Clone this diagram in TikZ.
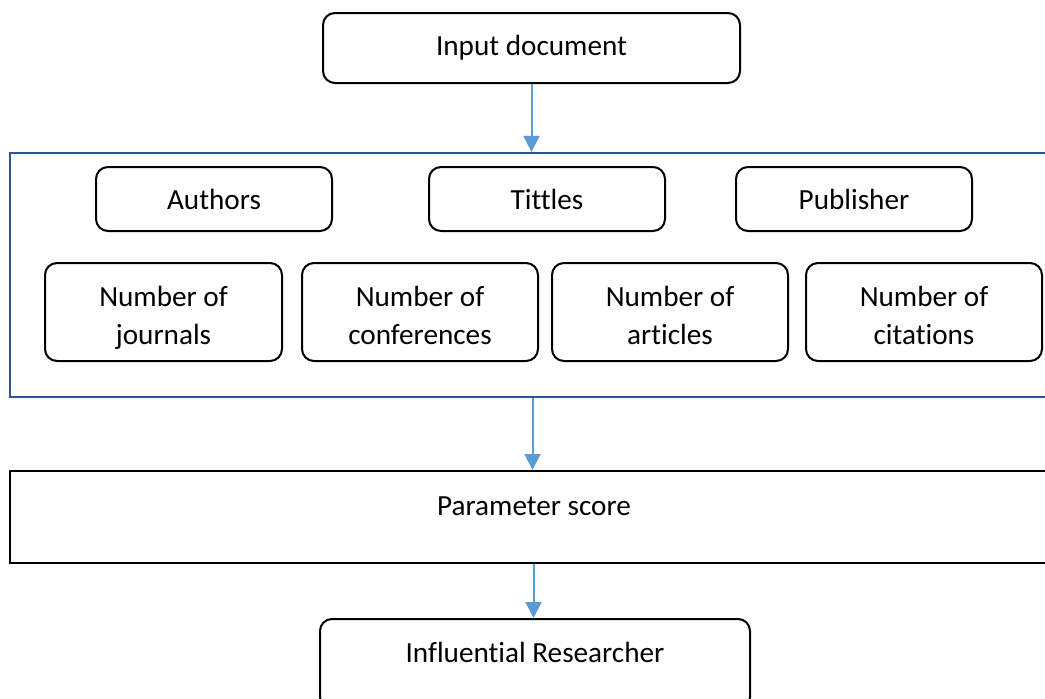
\documentclass[tikz,border=0pt]{standalone}
\usepackage{fontspec}
\setmainfont{Carlito}[Ligatures=NoCommon]
\usetikzlibrary{arrows.meta}
\definecolor{framecol}{RGB}{47,85,140}
\definecolor{arrcol}{RGB}{91,155,213}
\tikzset{
  rbox/.style={draw=black, line width=1pt, rounded corners=6pt, fill=white, inner sep=0pt, align=center},
  sbox/.style={draw=black, line width=1pt, inner sep=0pt},
  lbl/.style={inner sep=0pt, align=center},
  arr/.style={draw=arrcol, line width=1pt, -{Triangle[length=8pt,width=8pt]}},
}
\begin{document}
\begin{tikzpicture}[x=0.5pt,y=-0.5pt, font=\fontsize{14.6}{19}\selectfont]
\useasboundingbox (0,0) rectangle (1045,698);
\clip (0,0) rectangle (1045,698);
\fill[white] (0,0) rectangle (1045,698);
% top box
\node[rbox, minimum width=208.5pt, minimum height=35pt] (idoc) at (531.5,48) {Input document};
% frame
\node[draw=framecol, line width=1.1pt, minimum width=530pt, minimum height=122pt, inner sep=0pt] (frame) at (540,275) {};
% first row
\node[rbox, minimum width=118pt, minimum height=32pt] (auth) at (214,199) {Authors};
\node[rbox, minimum width=118pt, minimum height=32pt] (titl) at (547,199) {Tittles};
\node[rbox, minimum width=118pt, minimum height=32pt] (publ) at (854,199) {Publisher};
% second row
\node[rbox, minimum width=118.5pt, minimum height=49pt] (njour) at (163.5,312) {};
\node[rbox, minimum width=118pt, minimum height=49pt] (nconf) at (420,312) {};
\node[rbox, minimum width=118pt, minimum height=49pt] (nart) at (670,312) {};
\node[rbox, minimum width=118pt, minimum height=49pt] (ncit) at (924,312) {};
\node[lbl] (tjour) at (163.5,318) {\strut Number of\\\strut journals};
\node[lbl] (tconf) at (420,318) {\strut Number of\\\strut conferences};
\node[lbl] (tart) at (670,318) {\strut Number of\\\strut articles};
\node[lbl] (tcit) at (924,318) {\strut Number of\\\strut citations};
% parameter score
\node[sbox, minimum width=525pt, minimum height=46pt] (ps) at (535,517) {};
\node[lbl] (pstext) at (534,506) {Parameter score};
% influential researcher
\node[rbox, minimum width=215pt, minimum height=45pt] (infl) at (535,664) {};
\node[lbl] (infltext) at (535,652) {Influential Researcher};
% arrows
\draw[arr] (idoc.south) -- (idoc.south |- frame.north);
\draw[arr] ([xshift=0.5pt]frame.south -| idoc.south) -- ([xshift=0.5pt]idoc.south |- ps.north);
\draw[arr] ([xshift=1pt]ps.south -| idoc.south) -- ([xshift=1pt]idoc.south |- infl.north);
\end{tikzpicture}
\end{document}
